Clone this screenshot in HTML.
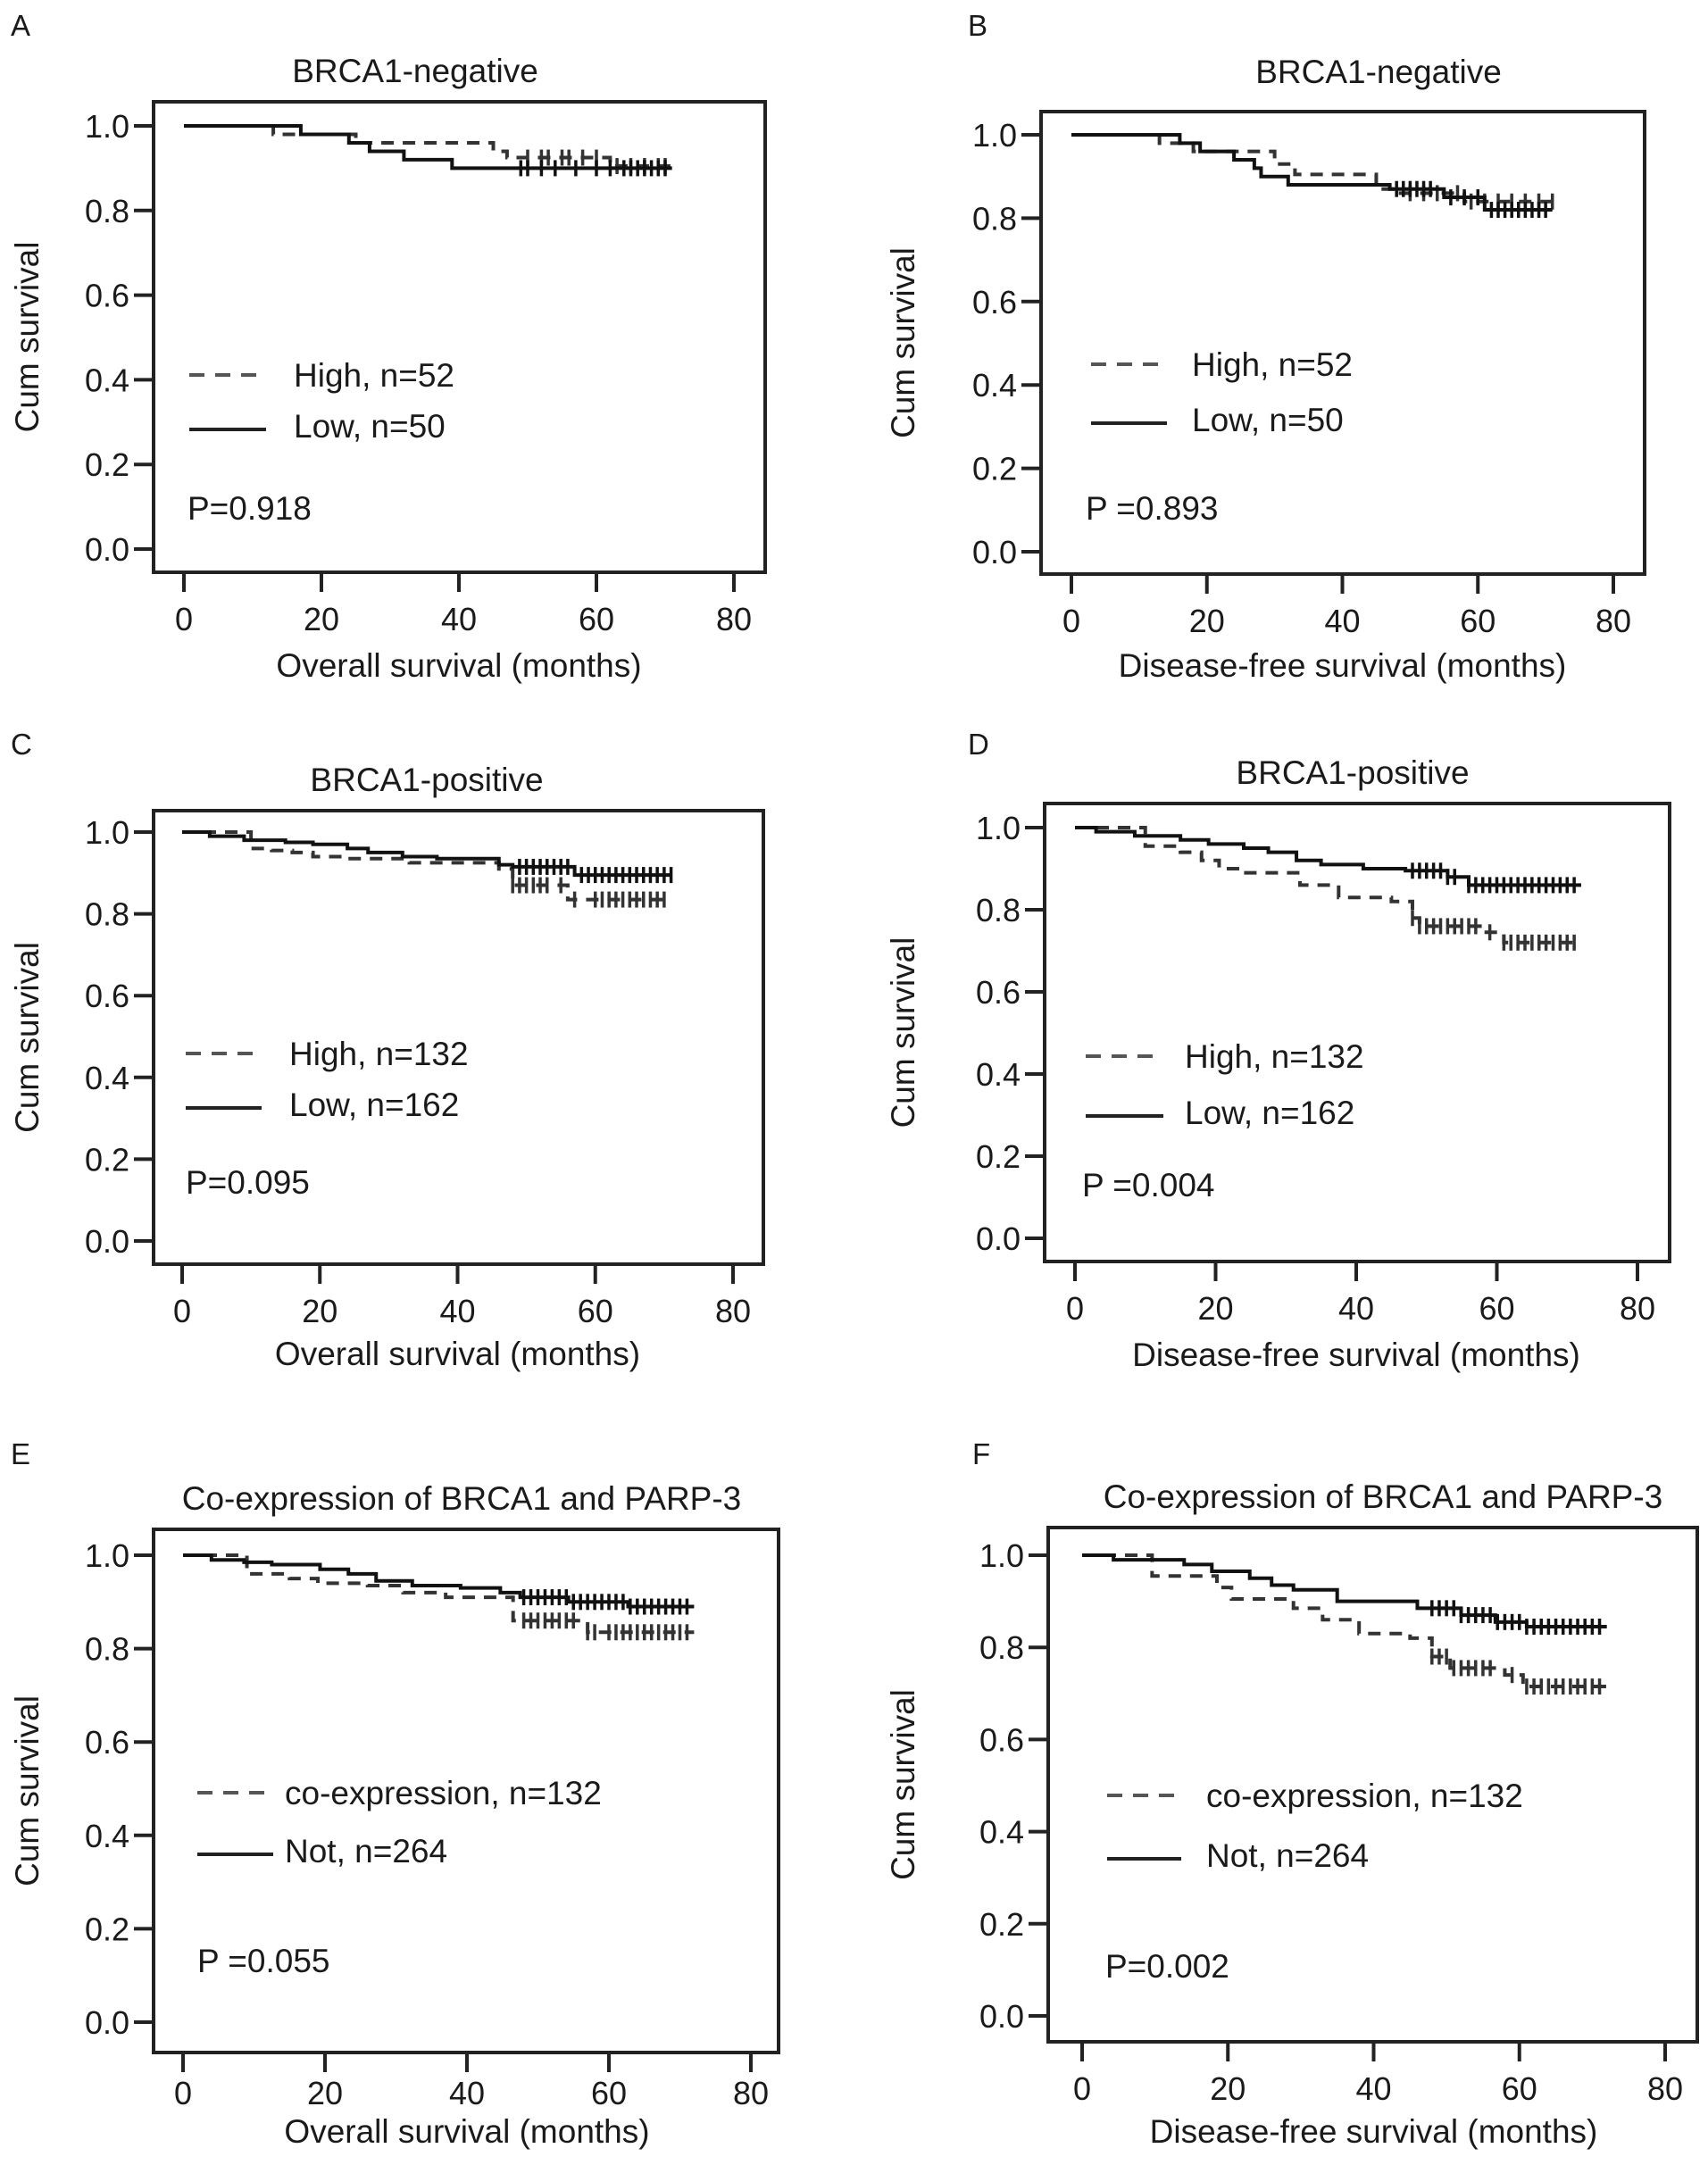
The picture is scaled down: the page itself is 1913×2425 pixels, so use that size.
<!DOCTYPE html>
<html><head><meta charset="utf-8"><style>
html,body{margin:0;padding:0;background:#fff;}
svg text{font-family:"Liberation Sans",Arial,sans-serif;fill:#1a1a1a;}
</style></head><body>
<svg id="fig" xmlns="http://www.w3.org/2000/svg" width="1913" height="2420" viewBox="0 0 1913 2420"></svg>
<script>
// ---- data (months, cumulative survival) ----
const xTicks=[0,20,40,60,80];
const yTicks=[0,0.2,0.4,0.6,0.8,1.0];
const yTickLabels=["0.0","0.2","0.4","0.6","0.8","1.0"];

const A_high_t=[0,13,25,45,47,62];
const A_high_s=[1,.98,.96,.94,.925,.905];
const A_high_c=[50,52,53,55,56,58,60,63,65,67,69,70];
const A_low_t=[0,17,24,27,32,39];
const A_low_s=[1,.98,.96,.94,.92,.90];
const A_low_c=[49,50,52,54,57,60,62,64,65,66,67,68,69,70];

const B_high_t=[0,13,18,30,33,45,48,58];
const B_high_s=[1,.98,.96,.93,.905,.87,.86,.84];
const B_high_c=[50,52,54,57,59,61,63,65,67,69,71];
const B_low_t=[0,16,19,24,27,28,32,47,55,61];
const B_low_s=[1,.98,.96,.94,.92,.90,.88,.87,.85,.82];
const B_low_c=[48,49,50,51,52,53,56,58,60,62,63,64,65,66,67,68,69,70];

const C_high_t=[0,10,13,16,19,24,33,46,48,56];
const C_high_s=[1,.96,.955,.95,.94,.935,.925,.91,.87,.835];
const C_high_c=[48,49,50,51,52,53,55,57,60,61,62,63,64,65,66,67,68,69,70];
const C_low_t=[0,4,9,15,19,24,27,32,37,46,48,57];
const C_low_s=[1,.99,.98,.975,.97,.96,.95,.94,.935,.92,.915,.895];
const C_low_c=[49,50,51,52,53,54,55,56,58,59,60,61,62,63,64,65,66,67,68,69,70,71];

const D_high_t=[0,10,15,18,20.5,24,32,37.5,45,48,49,58,61];
const D_high_s=[1,.955,.94,.92,.90,.89,.86,.83,.82,.78,.76,.745,.72];
const D_high_c=[48,49,50,51,52,53,54,55,56,57,59,61,62,63,64,65,66,67,68,69,70,71];
const D_low_t=[0,3,8.5,15,19,24,27.5,31.5,35,41,47,53,56];
const D_low_s=[1,.99,.98,.97,.96,.95,.94,.92,.91,.90,.895,.88,.86];
const D_low_c=[48,49,50,51,52,53,54,56,57,58,59,60,61,62,63,64,65,66,67,68,69,70,71];

const E_high_t=[0,9,15,19,26,31,37,46.5,57];
const E_high_s=[1,.96,.95,.94,.935,.92,.91,.86,.835];
const E_high_c=[48,49,50,51,52,53,54,55,57,58,60,61,62,63,64,65,66,67,68,69,70,71];
const E_low_t=[0,4,8.6,12.5,19.3,23.3,27.2,32.3,39.1,44.7,47.5,54.3,62.7];
const E_low_s=[1,.99,.985,.98,.97,.96,.945,.935,.93,.92,.91,.90,.89];
const E_low_c=[48,49,50,51,52,53,54,55,56,57,58,59,60,61,62,63,64,65,66,67,68,69,70,71];

const F_high_t=[0,9.6,18.5,20.5,29,33,38,45,48,50.5,58,60.5];
const F_high_s=[1,.955,.93,.905,.885,.86,.83,.82,.78,.755,.74,.715];
const F_high_c=[48,49,50,51,52,53,54,55,56,59,61,62,63,64,65,66,67,68,69,70,71];
const F_low_t=[0,4.3,14,17.8,23,26,29,35,46,52,56.7,61];
const F_low_s=[1,.99,.98,.965,.95,.935,.925,.90,.885,.87,.855,.845];
const F_low_c=[48,49,50,51,52,53,54,55,56,57,58,59,60,61,62,63,64,65,66,67,68,69,70,71];

const NS="http://www.w3.org/2000/svg";
const svg=document.getElementById('fig');
function el(tag,attrs,parent){const e=document.createElementNS(NS,tag);for(const k in attrs)e.setAttribute(k,attrs[k]);(parent||svg).appendChild(e);return e;}
function txt(s,attrs,parent){const e=el('text',attrs,parent);e.textContent=s;return e;}

const panels=[
 {id:'a',L:'A',lx:12,ly:40,title:'BRCA1-negative',tcx:465,box:[172,114,857,641],x0:206,x80:822,y1:141,y0:615,xt:'Overall survival (months)',ytx:30,xto:104,
  high:[A_high_t,A_high_s,A_high_c,71],low:[A_low_t,A_low_s,A_low_c,71],lg:['High, n=52','Low, n=50'],lgy:[420,477],lgx:[212,298,329],p:'P=0.918',py:569,px:210},
 {id:'b',L:'B',lx:1084,ly:40,title:'BRCA1-negative',tcx:1544,box:[1166,125,1842,643],x0:1200,x80:1807,y1:151,y0:618,xt:'Disease-free survival (months)',ytx:1011,xto:102,
  high:[B_high_t,B_high_s,B_high_c,71],low:[B_low_t,B_low_s,B_low_c,71],lg:['High, n=52','Low, n=50'],lgy:[408,470],lgx:[1222,1307,1335],p:'P =0.893',py:569,px:1216},
 {id:'c',L:'C',lx:12,ly:845,title:'BRCA1-positive',tcx:478,box:[172,908,855,1416],x0:204,x80:821,y1:932,y0:1390,xt:'Overall survival (months)',ytx:30,xto:100,
  high:[C_high_t,C_high_s,C_high_c,71],low:[C_low_t,C_low_s,C_low_c,71],lg:['High, n=132','Low, n=162'],lgy:[1180,1237],lgx:[208,293,324],p:'P=0.095',py:1324,px:208},
 {id:'d',L:'D',lx:1084,ly:845,title:'BRCA1-positive',tcx:1515,box:[1170,900,1870,1413],x0:1204,x80:1834,y1:927,y0:1387,xt:'Disease-free survival (months)',ytx:1011,xto:104,
  high:[D_high_t,D_high_s,D_high_c,72],low:[D_low_t,D_low_s,D_low_c,72],lg:['High, n=132','Low, n=162'],lgy:[1183,1246],lgx:[1216,1303,1327],p:'P =0.004',py:1327,px:1212},
 {id:'e',L:'E',lx:12,ly:1640,title:'Co-expression of BRCA1 and PARP-3',tcx:517,box:[172,1713,872,2299],x0:205,x80:841,y1:1742,y0:2265,xt:'Overall survival (months)',ytx:30,xto:88,
  high:[E_high_t,E_high_s,E_high_c,72],low:[E_low_t,E_low_s,E_low_c,72],lg:['co-expression, n=132','Not, n=264'],lgy:[2008,2073],lgx:[221,306,319],p:'P =0.055',py:2196,px:221},
 {id:'f',L:'F',lx:1089,ly:1640,title:'Co-expression of BRCA1 and PARP-3',tcx:1549,box:[1174,1711,1901,2287],x0:1212,x80:1865,y1:1742,y0:2258,xt:'Disease-free survival (months)',ytx:1011,xto:100,
  high:[F_high_t,F_high_s,F_high_c,72],low:[F_low_t,F_low_s,F_low_c,72],lg:['co-expression, n=132','Not, n=264'],lgy:[2011,2078],lgx:[1240,1323,1351],p:'P=0.002',py:2202,px:1238}
];

function stepPath(t,s,end,X,Y){
  let d='M'+X(t[0])+','+Y(s[0]);
  for(let i=1;i<t.length;i++){d+=' H'+X(t[i])+' V'+Y(s[i]);}
  d+=' H'+X(end);return d;
}
function survAt(t,s,m){let v=s[0];for(let i=0;i<t.length;i++){if(t[i]<=m)v=s[i];}return v;}

panels.forEach(P=>{
  const g=el('g',{});
  
  
  const X=m=>P.x0+(P.x80-P.x0)*m/80;
  const Y=v=>P.y0-(P.y0-P.y1)*v;
  const [l,t,r,b]=P.box;
  const lab=txt(P.L,{x:P.lx,y:P.ly,'font-size':33},g);
  
  
  const ti=txt(P.title,{x:P.tcx,y:t-(P.id==='b'?45:35)+13,'font-size':37,'text-anchor':'middle'},g);
  
  
  const bx=el('rect',{x:l,y:t,width:r-l,height:b-t,fill:'none',stroke:'#222','stroke-width':4},g);
  
  
  yTicks.forEach((v,i)=>{
    const tk=el('line',{x1:l-22,x2:l,y1:Y(v),y2:Y(v),stroke:'#222','stroke-width':4},g);
    
    
    const tl=txt(yTickLabels[i],{x:l-27,y:Y(v)+13,'font-size':36,'text-anchor':'end'},g);
    
    
  });
  xTicks.forEach(m=>{
    const tk=el('line',{x1:X(m),x2:X(m),y1:b,y2:b+22,stroke:'#222','stroke-width':4},g);
    
    
    const tl=txt(String(m),{x:X(m),y:b+(P.id==='e'?45:52)+13,'font-size':36,'text-anchor':'middle'},g);
    
    
  });
  const xt=txt(P.xt,{x:(X(0)+X(80))/2,y:b+P.xto+13,'font-size':37,'text-anchor':'middle'},g);
  
  
  const yc=(t+b)/2;
  const yt=txt('Cum survival',{x:P.ytx,y:yc,'font-size':37,'text-anchor':'middle',transform:'rotate(-90 '+P.ytx+' '+yc+') translate(0 13)'},g);
  
  
  [['high',P.high,'#333','14 10'],['low',P.low,'#111','']].forEach(([nm,S,col,dash])=>{
    const [tt,ss,cc,end]=S;
    const a={d:stepPath(tt,ss,end,X,Y),fill:'none',stroke:col,'stroke-width':4};
    if(dash)a['stroke-dasharray']=dash;
    const pth=el('path',a,g);
    
    
    cc.forEach(m=>{
      const v=survAt(tt,ss,m);
      const c=el('line',{x1:X(m),x2:X(m),y1:Y(v)-9,y2:Y(v)+9,stroke:col,'stroke-width':3.5},g);
      
      
    });
  });
  const [lx1,lx2,ltx]=P.lgx;
  const l1=el('line',{x1:lx1,x2:lx2,y1:P.lgy[0],y2:P.lgy[0],stroke:'#555','stroke-width':4,'stroke-dasharray':'17 12'},g);
  
  
  const t1=txt(P.lg[0],{x:ltx,y:P.lgy[0]+13,'font-size':37},g);
  
  
  const l2=el('line',{x1:lx1,x2:lx2,y1:P.lgy[1]+4,y2:P.lgy[1]+4,stroke:'#222','stroke-width':4},g);
  
  
  const t2=txt(P.lg[1],{x:ltx,y:P.lgy[1]+13,'font-size':37},g);
  
  
  const pv=txt(P.p,{x:P.px,y:P.py+13,'font-size':37},g);
  
  
});
</script>
</body></html>
